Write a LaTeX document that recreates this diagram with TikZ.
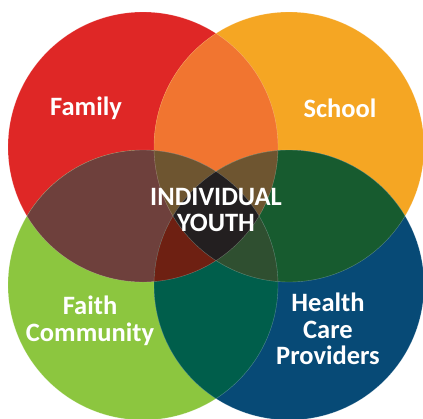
\documentclass[tikz,border=0pt]{standalone}
\usepackage{fontspec}
\setmainfont{Carlito}
\definecolor{famred}{HTML}{DF2726}
\definecolor{schorange}{HTML}{F5A623}
\definecolor{faithgreen}{HTML}{8CC63F}
\definecolor{healthblue}{HTML}{074A76}
\definecolor{famsch}{HTML}{F17530}
\definecolor{famfaith}{HTML}{6E403C}
\definecolor{schhealth}{HTML}{175B2F}
\definecolor{faithhealth}{HTML}{005E4B}
\definecolor{triupper}{HTML}{6E5530}
\definecolor{trileft}{HTML}{6E2012}
\definecolor{triright}{HTML}{2F4F30}
\definecolor{core}{HTML}{231F20}
\tikzset{
  label/.style={text=white, font=\fontsize{26.5}{26.5}\selectfont\bfseries, align=center, inner sep=0pt},
  rim/.style={draw=white, draw opacity=0.3, line width=0.4pt}
}
\def\R{135}
\begin{document}
\begin{tikzpicture}[x=1pt, y=-1pt]
  \useasboundingbox (0,0) rectangle (423,418);
  \clip (0,0) rectangle (423,418);
  % circle centres
  \coordinate (F) at (143,147);
  \coordinate (S) at (289,147);
  \coordinate (G) at (143,285);
  \coordinate (H) at (289,285);
  % single circles
  \fill[famred] (F) circle (\R);
  \fill[schorange] (S) circle (\R);
  \fill[faithgreen] (G) circle (\R);
  \fill[healthblue] (H) circle (\R);
  % pairwise overlaps
  \begin{scope}\clip (F) circle (\R); \fill[famsch] (S) circle (\R); \end{scope}
  \begin{scope}\clip (F) circle (\R); \fill[famfaith] (G) circle (\R); \end{scope}
  \begin{scope}\clip (S) circle (\R); \fill[schhealth] (H) circle (\R); \end{scope}
  \begin{scope}\clip (G) circle (\R); \fill[faithhealth] (H) circle (\R); \end{scope}
  % triple overlaps
  \begin{scope}\clip (F) circle (\R); \clip (S) circle (\R); \fill[triupper] (G) circle (\R); \end{scope}
  \begin{scope}\clip (F) circle (\R); \clip (S) circle (\R); \fill[triupper] (H) circle (\R); \end{scope}
  \begin{scope}\clip (F) circle (\R); \clip (G) circle (\R); \fill[trileft] (H) circle (\R); \end{scope}
  \begin{scope}\clip (S) circle (\R); \clip (H) circle (\R); \fill[triright] (G) circle (\R); \end{scope}
  % all four
  \begin{scope}\clip (F) circle (\R); \clip (S) circle (\R); \clip (G) circle (\R); \fill[core] (H) circle (\R); \end{scope}
  % faint rims
  \foreach \c in {F,S,G,H} { \draw[rim] (\c) circle (\R); }
  % labels
  \node[label] (family) at (86,108) {Family};
  \node[label] (school) at (340,108) {School};
  \node[label] (youth) at (216,210) {INDIVIDUAL\\YOUTH};
  \node[label] (faith) at (90,321) {Faith\\Community};
  \node[label] (health) at (328,329) {Health\\Care\\Providers};
\end{tikzpicture}
\end{document}
